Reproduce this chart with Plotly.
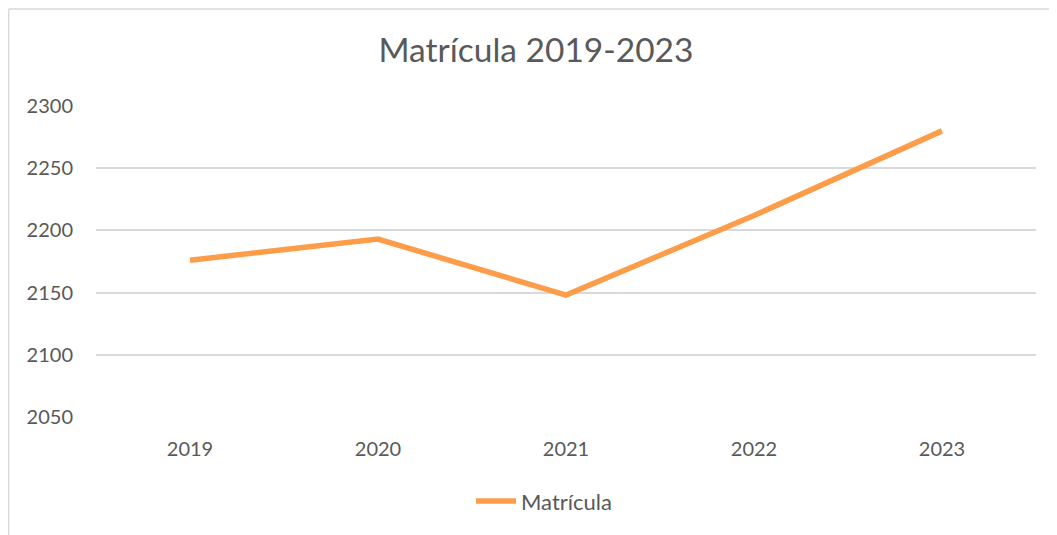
import plotly.graph_objects as go

years = ["2019", "2020", "2021", "2022", "2023"]
matricula = [2176, 2193, 2148, 2212, 2280]
y_ticks = [2050, 2100, 2150, 2200, 2250, 2300]

TEXT = "#595959"
FONT = "Lato"

# page body has an 8px margin, so the figure is sized/offset to compensate
W, H = 1049, 527
L, R, T, B = 88, 21, 97.7, 118.3
PW, PH = W - L - R, H - T - B

fig = go.Figure()
fig.add_trace(go.Scatter(
    x=years, y=matricula, mode="lines", name="Matrícula",
    line=dict(color="#FD9D4A", width=5.5),
))

bx = (0.6 - L) / PW
by = (PH + T - 0.6) / PH

fig.update_layout(
    width=W, height=H,
    paper_bgcolor="white", plot_bgcolor="white",
    margin=dict(l=L, r=R, t=T, b=B, autoexpand=False),
    font=dict(family=FONT, color=TEXT, size=20),
    title=dict(text="Matrícula 2019-2023", x=528 / W, xanchor="center",
               y=1 - 42 / H, yanchor="middle",
               font=dict(size=33.5, color=TEXT, family=FONT)),
    showlegend=True,
    legend=dict(orientation="h", x=(536 - L) / PW, xanchor="center", y=-0.271, yanchor="middle",
                font=dict(size=22, color=TEXT, family=FONT), itemwidth=40),
    xaxis=dict(type="category", range=[-0.5, 4.5], showgrid=False, showline=False,
               zeroline=False, ticks="", ticklabelstandoff=18,
               tickfont=dict(size=20, color=TEXT)),
    yaxis=dict(range=[2050, 2300], tickvals=y_ticks, showgrid=True, gridcolor="#D9D9D9",
               gridwidth=1.5, zeroline=False, showline=False, ticks="",
               ticklabelstandoff=22, tickfont=dict(size=20, color=TEXT)),
    shapes=[
        dict(type="line", xref="paper", yref="paper", x0=bx, x1=1.2,
             y0=by, y1=by, line=dict(color="#D9D9D9", width=1.5)),
        dict(type="line", xref="paper", yref="paper", x0=bx, x1=bx,
             y0=by, y1=-0.6, line=dict(color="#D9D9D9", width=1.5)),
    ],
)

fig.write_html("out.html")
